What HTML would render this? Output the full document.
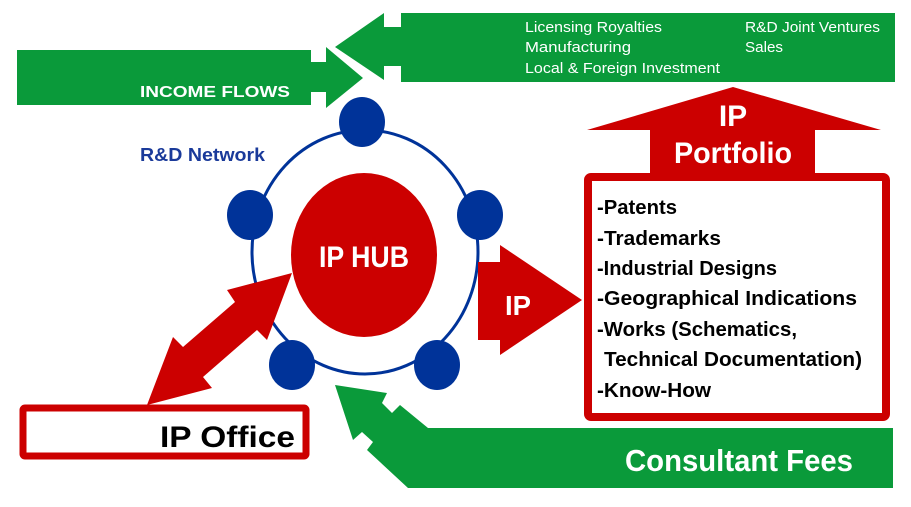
<!DOCTYPE html>
<html><head><meta charset="utf-8"><style>
html,body{margin:0;padding:0;background:#fff;}
body{width:911px;height:502px;overflow:hidden;}
svg text{font-family:"Liberation Sans",sans-serif;font-weight:bold;}
</style></head><body>
<svg width="911" height="502" viewBox="0 0 911 502" xmlns="http://www.w3.org/2000/svg">
<!-- top green -->
<rect x="401" y="13" width="494" height="69" fill="#0a9a3a"/>
<polygon points="384,13 384,27 401,27 401,66 384,66 384,80 335,47" fill="#0a9a3a"/>
<rect x="17" y="50" width="294" height="55" fill="#0a9a3a"/>
<polygon points="311,62 326,62 326,47 363,78 326,108 326,92 311,92" fill="#0a9a3a"/>
<text x="140" y="97" font-size="16" fill="#fff" textLength="150" lengthAdjust="spacingAndGlyphs">INCOME FLOWS</text>
<g font-size="15" fill="#fff">
<text x="525" y="32" style="font-weight:normal" textLength="137" lengthAdjust="spacingAndGlyphs">Licensing Royalties</text>
<text x="525" y="52" style="font-weight:normal" textLength="106" lengthAdjust="spacingAndGlyphs">Manufacturing</text>
<text x="525" y="73" style="font-weight:normal" textLength="195" lengthAdjust="spacingAndGlyphs">Local &amp; Foreign Investment</text>
<text x="745" y="32" style="font-weight:normal" textLength="135" lengthAdjust="spacingAndGlyphs">R&amp;D Joint Ventures</text>
<text x="745" y="52" style="font-weight:normal" textLength="38" lengthAdjust="spacingAndGlyphs">Sales</text>
</g>
<text x="140" y="161" font-size="18" fill="#1a3a9a" textLength="125" lengthAdjust="spacingAndGlyphs">R&amp;D Network</text>
<!-- ring -->
<ellipse cx="365" cy="252" rx="113" ry="122" fill="none" stroke="#003399" stroke-width="3"/>
<g fill="#003399">
<ellipse cx="362" cy="122" rx="23" ry="25"/>
<ellipse cx="250" cy="215" rx="23" ry="25"/>
<ellipse cx="480" cy="215" rx="23" ry="25"/>
<ellipse cx="292" cy="365" rx="23" ry="25"/>
<ellipse cx="437" cy="365" rx="23" ry="25"/>
</g>
<ellipse cx="364" cy="255" rx="73" ry="82" fill="#cc0000"/>
<text x="364" y="267" font-size="30" fill="#fff" text-anchor="middle" textLength="90" lengthAdjust="spacingAndGlyphs">IP HUB</text>
<!-- double arrow -->
<polygon points="292,273 267,340 257,330 203,377 212,388 147,405 173,337 183,347 235,302 227,290" fill="#cc0000"/>
<!-- IP arrow -->
<polygon points="478,262 500,262 500,245 582,300 500,355 500,340 478,340" fill="#cc0000"/>
<text x="505" y="315" font-size="28" fill="#fff" textLength="26" lengthAdjust="spacingAndGlyphs">IP</text>
<!-- portfolio -->
<polygon points="733,87 881,130 815,130 815,176 650,176 650,130 587,130" fill="#cc0000"/>
<text x="733" y="126" font-size="30" fill="#fff" text-anchor="middle">IP</text>
<text x="733" y="163" font-size="30" fill="#fff" text-anchor="middle" textLength="118" lengthAdjust="spacingAndGlyphs">Portfolio</text>
<rect x="588" y="177" width="298" height="240" fill="#fff" stroke="#cc0000" stroke-width="8" rx="3"/>
<g font-size="20" fill="#000">
<text x="597" y="214" textLength="80" lengthAdjust="spacingAndGlyphs">-Patents</text>
<text x="597" y="245" textLength="124" lengthAdjust="spacingAndGlyphs">-Trademarks</text>
<text x="597" y="275" textLength="180" lengthAdjust="spacingAndGlyphs">-Industrial Designs</text>
<text x="597" y="305" textLength="260" lengthAdjust="spacingAndGlyphs">-Geographical Indications</text>
<text x="597" y="336" textLength="200" lengthAdjust="spacingAndGlyphs">-Works (Schematics,</text>
<text x="604" y="366" textLength="258" lengthAdjust="spacingAndGlyphs">Technical Documentation)</text>
<text x="597" y="397" textLength="114" lengthAdjust="spacingAndGlyphs">-Know-How</text>
</g>
<!-- IP office -->
<rect x="23" y="408" width="283" height="48" fill="#fff" stroke="#cc0000" stroke-width="7" rx="2"/>
<text x="295" y="447" font-size="30" fill="#000" text-anchor="end" textLength="135" lengthAdjust="spacingAndGlyphs">IP Office</text>
<!-- consultant fees -->
<polygon points="335,385 387,393 382,403 392,413 400,405 428,428 893,428 893,488 408,488 367,450 373,442 362,432 353,440" fill="#0a9a3a"/>
<text x="853" y="471" font-size="31" fill="#fff" text-anchor="end" textLength="228" lengthAdjust="spacingAndGlyphs">Consultant Fees</text>
</svg>
</body></html>
